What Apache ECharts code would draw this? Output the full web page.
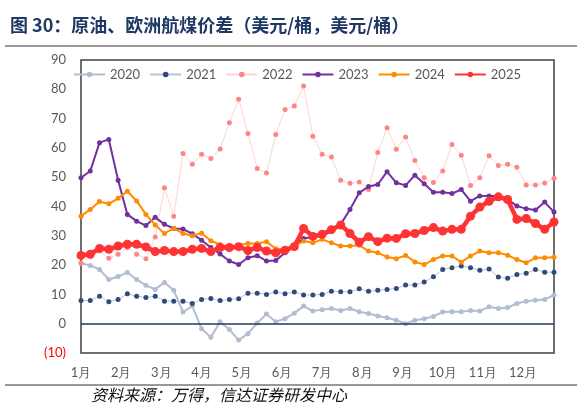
<!DOCTYPE html>
<html>
<head>
<meta charset="utf-8">
<title>原油、欧洲航煤价差</title>
<script src="https://cdn.jsdelivr.net/npm/echarts@6/dist/echarts.min.js"></script>
<style>
  html, body { margin: 0; padding: 0; background: #fff; }
  #main { width: 580px; height: 409px; }
</style>
</head>
<body>
<div id="main"></div>
<script>
// 周度数据，每年52周（美元/桶）
var monthLabels = ['1月', '2月', '3月', '4月', '5月', '6月', '7月', '8月', '9月', '10月', '11月', '12月'];
var yTicks = [-10, 0, 10, 20, 30, 40, 50, 60, 70, 80, 90];

var y2020 = [20.6, 19.9, 18.5, 15.1, 16.1, 17.5, 15.1, 13.1, 11.7, 14.1, 11.4, 4.0, 6.0, -1.7, -4.6, 0.7, -2.0, -5.6, -3.4, 0.2,
  3.3, 0.7, 1.7, 3.6, 6.0, 4.3, 4.8, 5.2, 4.5, 5.2, 4.1, 3.5, 2.6, 2.0, 1.2, 0.0, 1.2, 1.7, 2.5, 4.0,
  4.1, 4.1, 4.5, 4.3, 5.8, 5.2, 5.5, 6.9, 7.7, 8.0, 8.3, 9.8];
var y2021 = [7.9, 7.9, 9.4, 7.5, 8.3, 10.2, 9.4, 8.9, 9.4, 7.7, 7.7, 7.7, 6.9, 8.3, 8.6, 7.9, 8.3, 8.5, 10.4, 10.4,
  10.0, 10.8, 10.2, 10.8, 9.8, 9.8, 10.0, 11.1, 10.9, 10.9, 11.9, 11.1, 11.4, 11.7, 12.0, 13.2, 13.2, 14.2, 16.0, 18.5,
  19.1, 19.7, 19.1, 18.2, 18.7, 15.9, 15.5, 16.8, 17.2, 18.5, 17.6, 17.6];
var y2022 = [20.6, 23.1, 24.8, 22.3, 23.7, 26.0, 23.7, 22.2, 29.6, 46.4, 36.7, 58.1, 54.4, 57.8, 56.4, 59.6, 68.6, 76.6, 64.9, 53.0,
  51.4, 64.6, 73.1, 74.3, 81.1, 64.0, 57.8, 56.9, 49.0, 47.9, 48.4, 45.8, 58.4, 66.9, 59.5, 63.7, 55.7, 49.8, 48.2, 52.1,
  61.2, 57.5, 47.2, 49.8, 57.3, 54.0, 54.4, 53.4, 47.3, 47.3, 48.0, 49.6];
var y2023 = [49.8, 52.1, 61.8, 62.9, 49.0, 37.3, 35.0, 33.5, 36.3, 33.9, 32.5, 32.3, 30.7, 28.5, 26.0, 23.8, 21.4, 20.2, 22.5, 23.2,
  21.4, 21.6, 24.2, 26.5, 29.1, 29.6, 29.9, 31.6, 33.9, 39.0, 44.7, 46.8, 47.5, 51.9, 48.1, 47.2, 50.7, 47.8, 44.9, 44.9,
  44.4, 45.8, 41.8, 43.6, 43.6, 43.6, 42.4, 40.2, 39.2, 38.8, 41.5, 38.1];
var y2024 = [36.7, 39.0, 41.7, 40.9, 42.8, 45.2, 41.9, 37.3, 33.7, 30.8, 32.5, 30.8, 30.0, 30.9, 28.3, 27.0, 26.2, 26.8, 27.4, 27.4,
  28.0, 25.6, 25.4, 26.5, 28.2, 27.6, 28.8, 27.6, 26.5, 26.5, 26.8, 24.8, 24.2, 22.8, 22.2, 23.3, 21.1, 20.2, 21.9, 23.1,
  23.1, 21.0, 23.1, 24.8, 24.2, 24.2, 23.4, 21.9, 20.8, 22.5, 22.5, 22.7];
var y2025 = [23.3, 23.7, 25.7, 25.4, 26.5, 27.1, 27.1, 26.2, 24.6, 25.0, 24.6, 24.6, 25.4, 25.7, 24.6, 26.0, 26.0, 26.3, 25.0, 26.0,
  24.8, 24.2, 25.1, 26.3, 32.5, 29.8, 30.5, 32.1, 33.7, 30.8, 27.8, 29.7, 28.0, 29.2, 29.1, 30.7, 30.8, 31.8, 32.8, 31.6,
  32.2, 32.2, 36.7, 39.8, 41.8, 43.3, 42.4, 35.6, 35.9, 34.2, 32.2, 34.7];

var weeks = y2025.length;
var labelFont = 'Lato, "Noto Sans", sans-serif';

function toPoints(arr) {
    return arr.map(function (v, i) { return [i, v]; });
}

// 单个年份的折线配置
function lineSeries(name, arr, opt) {
    return {
        name: name,
        type: 'line',
        data: toPoints(arr),
        symbol: 'circle',
        symbolSize: opt.size,
        showSymbol: true,
        z: opt.z,
        itemStyle: { color: opt.dot },
        lineStyle: { color: opt.line, width: opt.width },
        emphasis: { disabled: true },
        animation: false
    };
}

var series = [
    lineSeries('2020', y2020, { dot: '#b3bdd1', line: '#b3bdd1', width: 2, size: 5, z: 2 }),
    lineSeries('2021', y2021, { dot: '#2f4b7c', line: '#b9c3d6', width: 1, size: 5, z: 3 }),
    lineSeries('2022', y2022, { dot: '#ff8585', line: '#ffd3d3', width: 1, size: 5, z: 4 }),
    lineSeries('2023', y2023, { dot: '#7030a0', line: '#7030a0', width: 2, size: 5, z: 5 }),
    lineSeries('2024', y2024, { dot: '#ff8c00', line: '#ff8c00', width: 2, size: 5, z: 6 }),
    lineSeries('2025', y2025, { dot: '#ff3333', line: '#ff3333', width: 4.5, size: 9, z: 7 })
];
// 零轴
series[0].markLine = {
    silent: true,
    symbol: 'none',
    label: { show: false },
    lineStyle: { color: '#1f3864', width: 1.5, type: 'solid' },
    data: [{ yAxis: 0 }],
    animation: false
};

var legendData = series.map(function (s) {
    return { name: s.name, itemStyle: { borderWidth: 0 } };
});

var myChart = echarts.init(document.getElementById('main'), null, { renderer: 'canvas' });
myChart.setOption({
    backgroundColor: '#fff',
    animation: false,
    title: {
        text: '图 30：原油、欧洲航煤价差（美元/桶，美元/桶）',
        left: 5,
        top: 11,
        textStyle: { color: '#1f3864', fontSize: 18, fontWeight: 'bold', fontFamily: '"Noto Sans CJK SC", sans-serif' }
    },
    legend: {
        top: 63,
        left: 68,
        itemWidth: 31,
        itemHeight: 7,
        itemGap: 9,
        textStyle: { color: '#595959', fontSize: 13, fontFamily: labelFont },
        data: legendData
    },
    grid: {
        left: 81, right: 26, top: 60, bottom: 56,
        show: true,
        borderColor: '#404040',
        borderWidth: 1.5,
        containLabel: false
    },
    xAxis: {
        type: 'value',
        min: 0,
        max: weeks - 1,
        axisLine: { show: false },
        axisTick: { show: false },
        splitLine: { show: false },
        axisLabel: {
            customValues: monthLabels.map(function (m, k) { return k * weeks / 12; }),
            formatter: function (v) { return monthLabels[Math.round(v * 12 / weeks)]; },
            color: '#595959',
            fontSize: 13,
            fontFamily: labelFont,
            margin: 13
        }
    },
    yAxis: {
        type: 'value',
        min: yTicks[0],
        max: yTicks[yTicks.length - 1],
        interval: 10,
        axisLine: { show: false },
        axisTick: { show: false },
        splitLine: { show: false },
        axisLabel: {
            margin: 15,
            color: '#595959',
            fontSize: 13,
            fontFamily: labelFont,
            formatter: function (v) {
                return v < 0 ? '{neg|(' + (-v) + ')}' : String(v);
            },
            rich: { neg: { color: '#ff0000', fontSize: 13, fontFamily: labelFont } }
        }
    },
    graphic: [
        { type: 'line', shape: { x1: 5, y1: 46, x2: 577, y2: 46 }, style: { stroke: '#333', lineWidth: 1 }, silent: true },
        { type: 'line', shape: { x1: 5, y1: 385, x2: 577, y2: 385 }, style: { stroke: '#333', lineWidth: 1 }, silent: true },
        {
            type: 'text', left: 91, top: 387, silent: true,
            style: { text: '资料来源：万得，信达证券研发中心', fill: '#111', font: 'italic 16px "Noto Sans CJK SC", sans-serif' }
        }
    ],
    series: series
});
</script>
</body>
</html>
